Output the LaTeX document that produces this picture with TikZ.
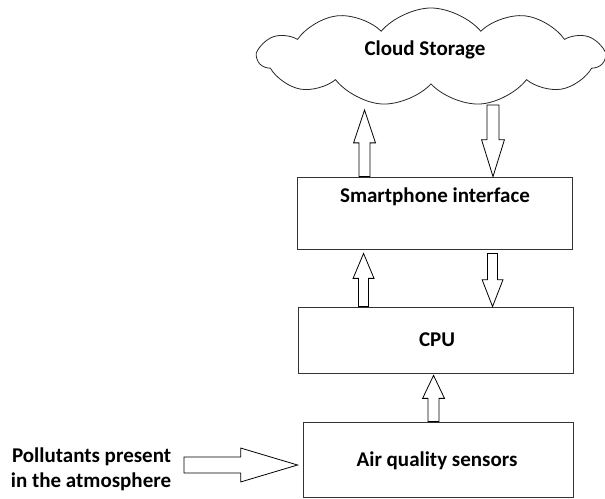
\documentclass[tikz,border=0pt]{standalone}
\usepackage{fontspec}
\setmainfont{Carlito}
\usetikzlibrary{shapes.symbols,calc}
\tikzset{
  box/.style={draw=black!80, line width=0.9bp, inner sep=0pt},
  lbl/.style={font=\fontsize{21bp}{25bp}\selectfont\bfseries},
  blk/.style={draw=black, line width=0.8bp, fill=white, line join=miter},
}
% vertical block arrow from #1 (tail) to #2 (tip); #3 head length, #4 head half width, #5 shaft half width
\newcommand\vblock[5]{%
  \draw[blk] let \p1=#1, \p2=#2, \n1={sign(\y2-\y1)} in
    (\x1-#5,\y1) -- (\x1-#5,\y2-\n1*#3) -- (\x1-#4,\y2-\n1*#3) -- (\x1,\y2)
    -- (\x1+#4,\y2-\n1*#3) -- (\x1+#5,\y2-\n1*#3) -- (\x1+#5,\y1) -- cycle;}
\newcommand\hblock[5]{%
  \draw[blk] let \p1=#1, \p2=#2 in
    (\x1,\y1-#5) -- (\x2-#3,\y1-#5) -- (\x2-#3,\y1-#4) -- (\x2,\y1)
    -- (\x2-#3,\y1+#4) -- (\x2-#3,\y1+#5) -- (\x1,\y1+#5) -- cycle;}
\begin{document}
\begin{tikzpicture}[x=1bp,y=-1bp]
\useasboundingbox (0,0) rectangle (605,499);
% cloud
\node[cloud, draw=black!85, line width=0.8bp, cloud puffs=11, cloud puff arc=100, aspect=3.6,
      minimum width=346bp, minimum height=98bp, inner sep=0pt] (cloud) at (431,57) {};
\node[lbl] (cloudtxt) at (425,50) {Cloud Storage};
% boxes
\node[box, minimum width=275bp, minimum height=72bp] (sp) at (434.5,213) {};
\node[lbl] (sptxt) at (435,197) {Smartphone interface};
\node[box, minimum width=275bp, minimum height=66bp] (cpu) at (435.5,340) {};
\node[lbl] (cputxt) at (437,340) {CPU};
\node[box, minimum width=270bp, minimum height=75bp] (sens) at (438,459.5) {};
\node[lbl] (senstxt) at (437,461) {Air quality sensors};
\node[lbl, align=right] (poll) at (91,469) {Pollutants present\\in the atmosphere};
% arrow end points
\coordinate (a1t) at ($(sp.north west)+(68,0)$);
\coordinate (a1h) at (365.5,110);
\coordinate (a2t) at (493,105);
\coordinate (a2h) at ($(sp.north west)+(196,0)$);
\coordinate (a3t) at ($(cpu.north west)+(66,0)$);
\coordinate (a3h) at ($(sp.south west)+(67,4)$);
\coordinate (a4t) at ($(sp.south west)+(196,4)$);
\coordinate (a4h) at ($(cpu.north west)+(195,0)$);
\coordinate (a5t) at ($(sens.north west)+(131,0)$);
\coordinate (a5h) at ($(cpu.south west)+(136,2)$);
\coordinate (a6t) at (184,465);
\coordinate (a6h) at ($(sens.west)+(-5,5.5)$);
\vblock{(a1t)}{(a1h)}{33}{11}{5.5}
\vblock{(a2t)}{(a2h)}{37}{11.5}{6}
\vblock{(a3t)}{(a3h)}{25}{10.5}{5}
\vblock{(a4t)}{(a4h)}{27}{10.5}{5}
\vblock{(a5t)}{(a5h)}{23}{11}{5.5}
\hblock{(a6t)}{(a6h)}{57}{17}{8}
\end{tikzpicture}
\end{document}
